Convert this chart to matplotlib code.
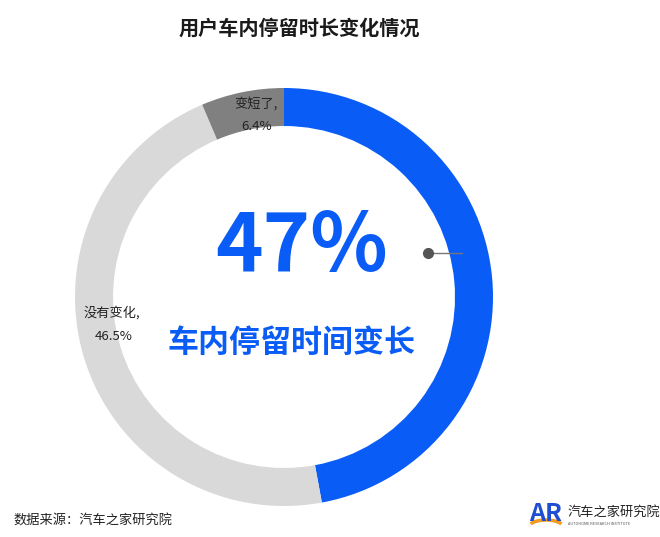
import matplotlib.pyplot as plt
from matplotlib.patches import Arc

plt.rcParams['font.family'] = ['Noto Sans CJK SC', 'DejaVu Sans']

# Data
categories = ['车内停留时间变长', '没有变化', '变短了']
shares = [47.1, 46.5, 6.4]
colors = ['#0a5cf7', '#d9d9d9', '#808080']

fig = plt.figure(figsize=(6.6, 5.37), dpi=100)
ax = fig.add_axes([0, 0, 1, 1])

H = 537
cx, cy, R = 284, H - 297, 209
ax.pie(shares, colors=colors, startangle=90, counterclock=False,
       radius=R, center=(cx, cy), frame=True,
       wedgeprops=dict(width=38, edgecolor='none'))
ax.set_xlim(0, 660)
ax.set_ylim(0, 537)
ax.set_aspect('equal')
ax.axis('off')

# title
ax.text(299, H - 28, '用户车内停留时长变化情况', ha='center', va='center',
        fontsize=14.5, fontweight='bold', color='#1a1a1a')

# segment labels
ax.text(256, H - 104, f'{categories[2]},', ha='center', va='center', fontsize=9.5, color='#222222')
ax.text(257, H - 127, f'{shares[2]}%', ha='center', va='center', fontsize=9.5, color='#222222')
ax.text(112, H - 313, f'{categories[1]},', ha='center', va='center', fontsize=9.5, color='#222222')
ax.text(114, H - 336, f'{shares[1]}%', ha='center', va='center', fontsize=9.5, color='#222222')

# big centre text
ax.text(302, H - 248, f'{round(shares[0])}%', ha='center', va='center',
        fontsize=58, fontweight='bold', color=colors[0])
ax.text(292, H - 343, categories[0], ha='center', va='center',
        fontsize=22.3, fontweight='heavy', color=colors[0])

# pointer
ax.plot([428, 462], [H - 253, H - 253], color='#777777', lw=1)
ax.plot([428], [H - 253], 'o', color='#555555', ms=7)

# footer
ax.text(13, H - 521, '数据来源：汽车之家研究院', ha='left', va='center',
        fontsize=9.5, color='#222222')
ax.text(546, H - 514, 'AR', ha='center', va='center', fontsize=18,
        fontweight='bold', color='#1f4fd0')
ax.add_patch(Arc((546, H - 528), 36, 16, theta1=15, theta2=165,
                 color='#f39a1f', lw=2.5))
ax.text(568, H - 512, '汽车之家研究院', ha='left', va='center', fontsize=9.5, color='#222222')
ax.text(568, H - 524, 'AUTOHOME RESEARCH INSTITUTE', ha='left', va='center',
        fontsize=2.8, color='#555555')

fig.savefig('out.png', dpi=100, facecolor='white')
